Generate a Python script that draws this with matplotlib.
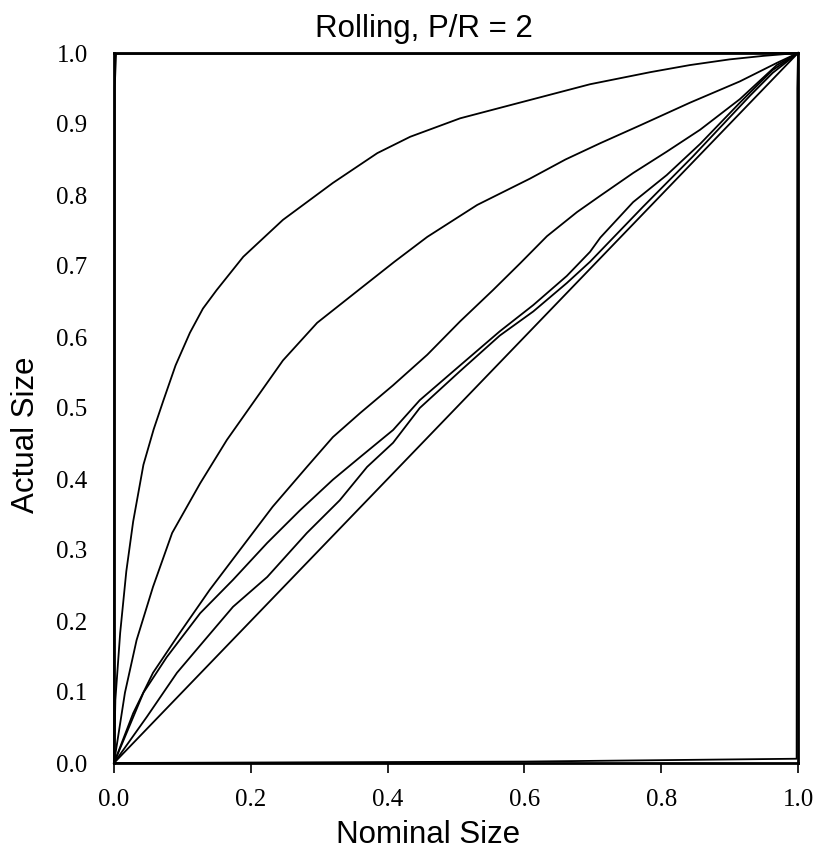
"""
Size curves (actual vs nominal rejection rate) for the rolling scheme, P/R = 2.
"""

import matplotlib
matplotlib.use("Agg")
import matplotlib.pyplot as plt

# ---------------------------------------------------------------------------
# Data: nominal size (x) against simulated actual size (y) for each test
# ---------------------------------------------------------------------------

# over-sized test hugging the upper-left corner
NOM_G = [0.0, 0.001, 0.003, 0.5, 1.0]
ACT_G = [0.0, 0.95, 0.999, 0.999, 1.0]

NOM_A = [0.0, 0.002, 0.009, 0.018, 0.028, 0.043, 0.058, 0.072, 0.090, 0.111,
         0.130, 0.150, 0.189, 0.247, 0.320, 0.385, 0.433, 0.506, 0.589, 0.696,
         0.784, 0.842, 0.900, 0.950, 1.0]
ACT_A = [0.0, 0.089, 0.183, 0.270, 0.340, 0.420, 0.470, 0.510, 0.560, 0.606,
         0.640, 0.666, 0.713, 0.765, 0.817, 0.859, 0.882, 0.908, 0.929, 0.956,
         0.973, 0.983, 0.991, 0.996, 1.0]

NOM_B = [0.0, 0.016, 0.033, 0.057, 0.085, 0.126, 0.165, 0.206, 0.247, 0.297,
         0.360, 0.410, 0.458, 0.531, 0.608, 0.660, 0.711, 0.769, 0.842, 0.915,
         0.969, 1.0]
ACT_B = [0.0, 0.099, 0.173, 0.248, 0.324, 0.394, 0.455, 0.511, 0.567, 0.620,
         0.668, 0.706, 0.741, 0.786, 0.823, 0.850, 0.873, 0.898, 0.930, 0.960,
         0.986, 1.0]

NOM_C = [0.0, 0.028, 0.057, 0.096, 0.140, 0.184, 0.232, 0.282, 0.320, 0.360,
         0.408, 0.458, 0.506, 0.554, 0.594, 0.633, 0.677, 0.711, 0.759, 0.808,
         0.857, 0.915, 0.969, 1.0]
ACT_C = [0.0, 0.070, 0.127, 0.183, 0.244, 0.300, 0.361, 0.417, 0.459, 0.493,
         0.532, 0.575, 0.622, 0.666, 0.704, 0.742, 0.776, 0.799, 0.831, 0.861,
         0.892, 0.935, 0.983, 1.0]

NOM_D = [0.0, 0.043, 0.077, 0.126, 0.174, 0.224, 0.272, 0.320, 0.360, 0.408,
         0.447, 0.506, 0.564, 0.613, 0.662, 0.696, 0.711, 0.759, 0.808, 0.857,
         0.915, 0.963, 1.0]
ACT_D = [0.0, 0.099, 0.149, 0.211, 0.258, 0.310, 0.356, 0.399, 0.431, 0.469,
         0.511, 0.560, 0.608, 0.645, 0.686, 0.720, 0.740, 0.790, 0.828, 0.872,
         0.930, 0.976, 1.0]

NOM_E = [0.0, 0.048, 0.092, 0.136, 0.174, 0.224, 0.282, 0.330, 0.370, 0.408,
         0.447, 0.506, 0.564, 0.613, 0.662, 0.696, 0.740, 0.773, 0.846, 0.930,
         0.963, 1.0]
ACT_E = [0.0, 0.065, 0.127, 0.177, 0.220, 0.262, 0.324, 0.370, 0.417, 0.451,
         0.500, 0.552, 0.602, 0.636, 0.676, 0.706, 0.750, 0.783, 0.854, 0.940,
         0.972, 1.0]

# correctly sized reference line
NOM_45 = [0.0, 1.0]
ACT_45 = [0.0, 1.0]

# under-sized test hugging the lower-right corner
NOM_F = [0.0, 0.3, 0.6, 0.8, 0.998, 0.999, 1.0]
ACT_F = [0.0, 0.001, 0.002, 0.004, 0.006, 0.95, 1.0]

X_TICKS = [0.0, 0.2, 0.4, 0.6, 0.8, 1.0]
X_TICK_LABELS = ["0.0", "0.2", "0.4", "0.6", "0.8", "1.0"]
Y_TICKS = [0.0, 0.1, 0.2, 0.3, 0.4, 0.5, 0.6, 0.7, 0.8, 0.9, 1.0]
Y_TICK_LABELS = ["0.0", "0.1", "0.2", "0.3", "0.4", "0.5",
                 "0.6", "0.7", "0.8", "0.9", "1.0"]

SANS = "Liberation Sans"
SERIF = "Liberation Serif"


def main():
    W, H = 821, 851
    fig = plt.figure(figsize=(W / 100, H / 100), dpi=100)
    ax = fig.add_axes([114 / W, 88 / H, 684 / W, 710 / H])

    curves = [
        (NOM_G, ACT_G), (NOM_A, ACT_A), (NOM_B, ACT_B), (NOM_C, ACT_C),
        (NOM_D, ACT_D), (NOM_E, ACT_E), (NOM_45, ACT_45), (NOM_F, ACT_F),
    ]
    for nom, act in curves:
        ax.plot(nom, act, color="black", lw=1.3, solid_joinstyle="round",
                clip_on=False)

    ax.set_xlim(0, 1)
    ax.set_ylim(0, 1)

    for side in ["left", "right", "top", "bottom"]:
        ax.spines[side].set_linewidth(2.0)

    ax.set_xticks(X_TICKS)
    ax.set_xticklabels(X_TICK_LABELS, fontfamily=SERIF, fontsize=18)
    ax.set_yticks(Y_TICKS)
    ax.set_yticklabels(Y_TICK_LABELS, fontfamily=SERIF, fontsize=18)
    ax.tick_params(axis="x", direction="out", length=7, width=1.2, pad=12)
    ax.tick_params(axis="y", length=0, pad=19)

    fig.text(424 / W, 1 - 37 / H, "Rolling, P/R = 2", ha="center",
             va="baseline", fontsize=22.5, family=SANS)
    fig.text(428 / W, 1 - 843 / H, "Nominal Size", ha="center",
             va="baseline", fontsize=22.5, family=SANS)
    fig.text(26 / W, 1 - 435 / H, "Actual Size", ha="center", va="center",
             rotation=90, fontsize=22.5, family=SANS)

    fig.savefig("out.png", dpi=100)
    plt.close(fig)


if __name__ == "__main__":
    main()
